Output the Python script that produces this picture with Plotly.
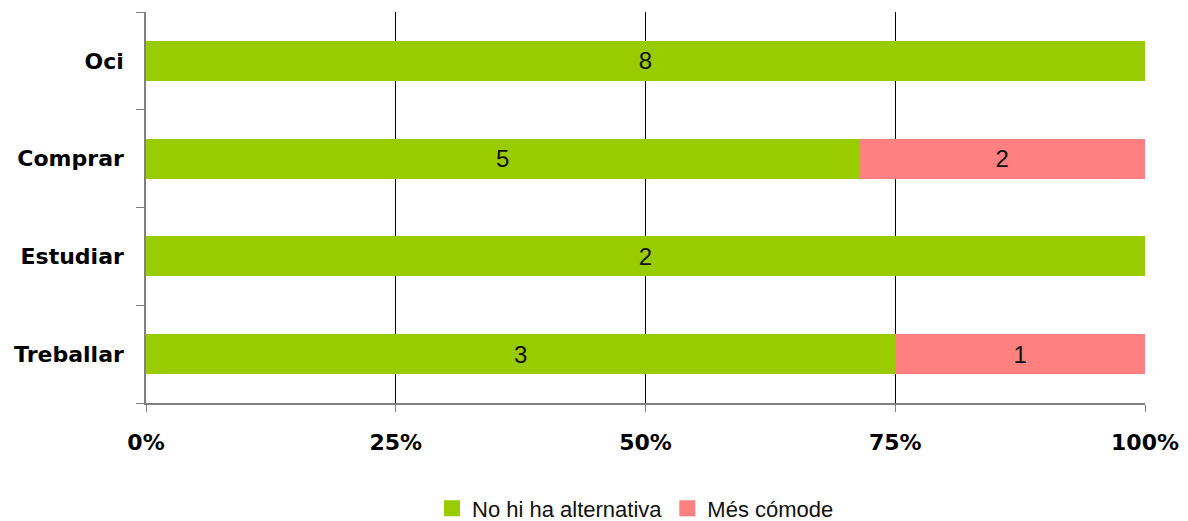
import plotly.graph_objects as go

categories = ["Treballar", "Estudiar", "Comprar", "Oci"]
no_alternativa = [3, 2, 5, 8]
mes_comode = [1, 0, 2, 0]
series_names = ["No hi ha alternativa", "Més cómode"]
x_ticks = [0, 25, 50, 75, 100]
x_labels = ["0%", "25%", "50%", "75%", "100%"]

colors = ["#99CC00", "#FF8080"]

fig = go.Figure()
for name, vals, col in zip(series_names, [no_alternativa, mes_comode], colors):
    fig.add_trace(go.Bar(
        y=categories, x=vals, orientation="h", name=name,
        marker=dict(color=col, line=dict(width=0)),
        text=[str(v) if v else "" for v in vals],
        textposition="inside", insidetextanchor="middle",
        textfont=dict(family="Liberation Sans", size=24, color="#111111"),
        hoverinfo="skip", showlegend=False,
    ))
# legend entries with larger square swatches
for name, col in zip(series_names, colors):
    fig.add_trace(go.Scatter(
        x=[None], y=[None], mode="markers", name=name,
        marker=dict(symbol="square", size=17, color=col),
        showlegend=True, hoverinfo="skip",
    ))

fig.update_layout(
    barmode="stack", barnorm="percent", bargap=0.59,
    width=1180, height=513,
    margin=dict(l=138, r=43, t=4, b=118, autoexpand=False),
    plot_bgcolor="white", paper_bgcolor="white",
    showlegend=True,
    legend=dict(orientation="h", x=0.49, xanchor="center", yref="paper",
                y=-0.27, yanchor="middle", traceorder="normal",
                font=dict(family="Liberation Sans", size=22, color="#111111"),
                itemwidth=30, tracegroupgap=0),
    uniformtext=dict(mode="show", minsize=10),
)
fig.update_xaxes(
    range=[0, 100], tickvals=x_ticks, ticktext=x_labels,
    showgrid=True, gridcolor="#000000", gridwidth=1,
    showline=True, linecolor="#808080", linewidth=1.5,
    ticks="outside", ticklen=7, tickcolor="#808080",
    ticklabelstandoff=12,
    tickfont=dict(family="DejaVu Sans", size=22, color="#000000", weight="bold"),
    zeroline=False,
)
fig.update_yaxes(
    categoryorder="array", categoryarray=categories,
    showline=True, linecolor="#808080", linewidth=1.5,
    ticks="outside", ticklen=8, tickcolor="#808080", tickson="boundaries",
    showgrid=False, ticklabelstandoff=16,
    tickfont=dict(family="DejaVu Sans", size=22, color="#000000", weight="bold"),
)

fig.write_html("out.html")
